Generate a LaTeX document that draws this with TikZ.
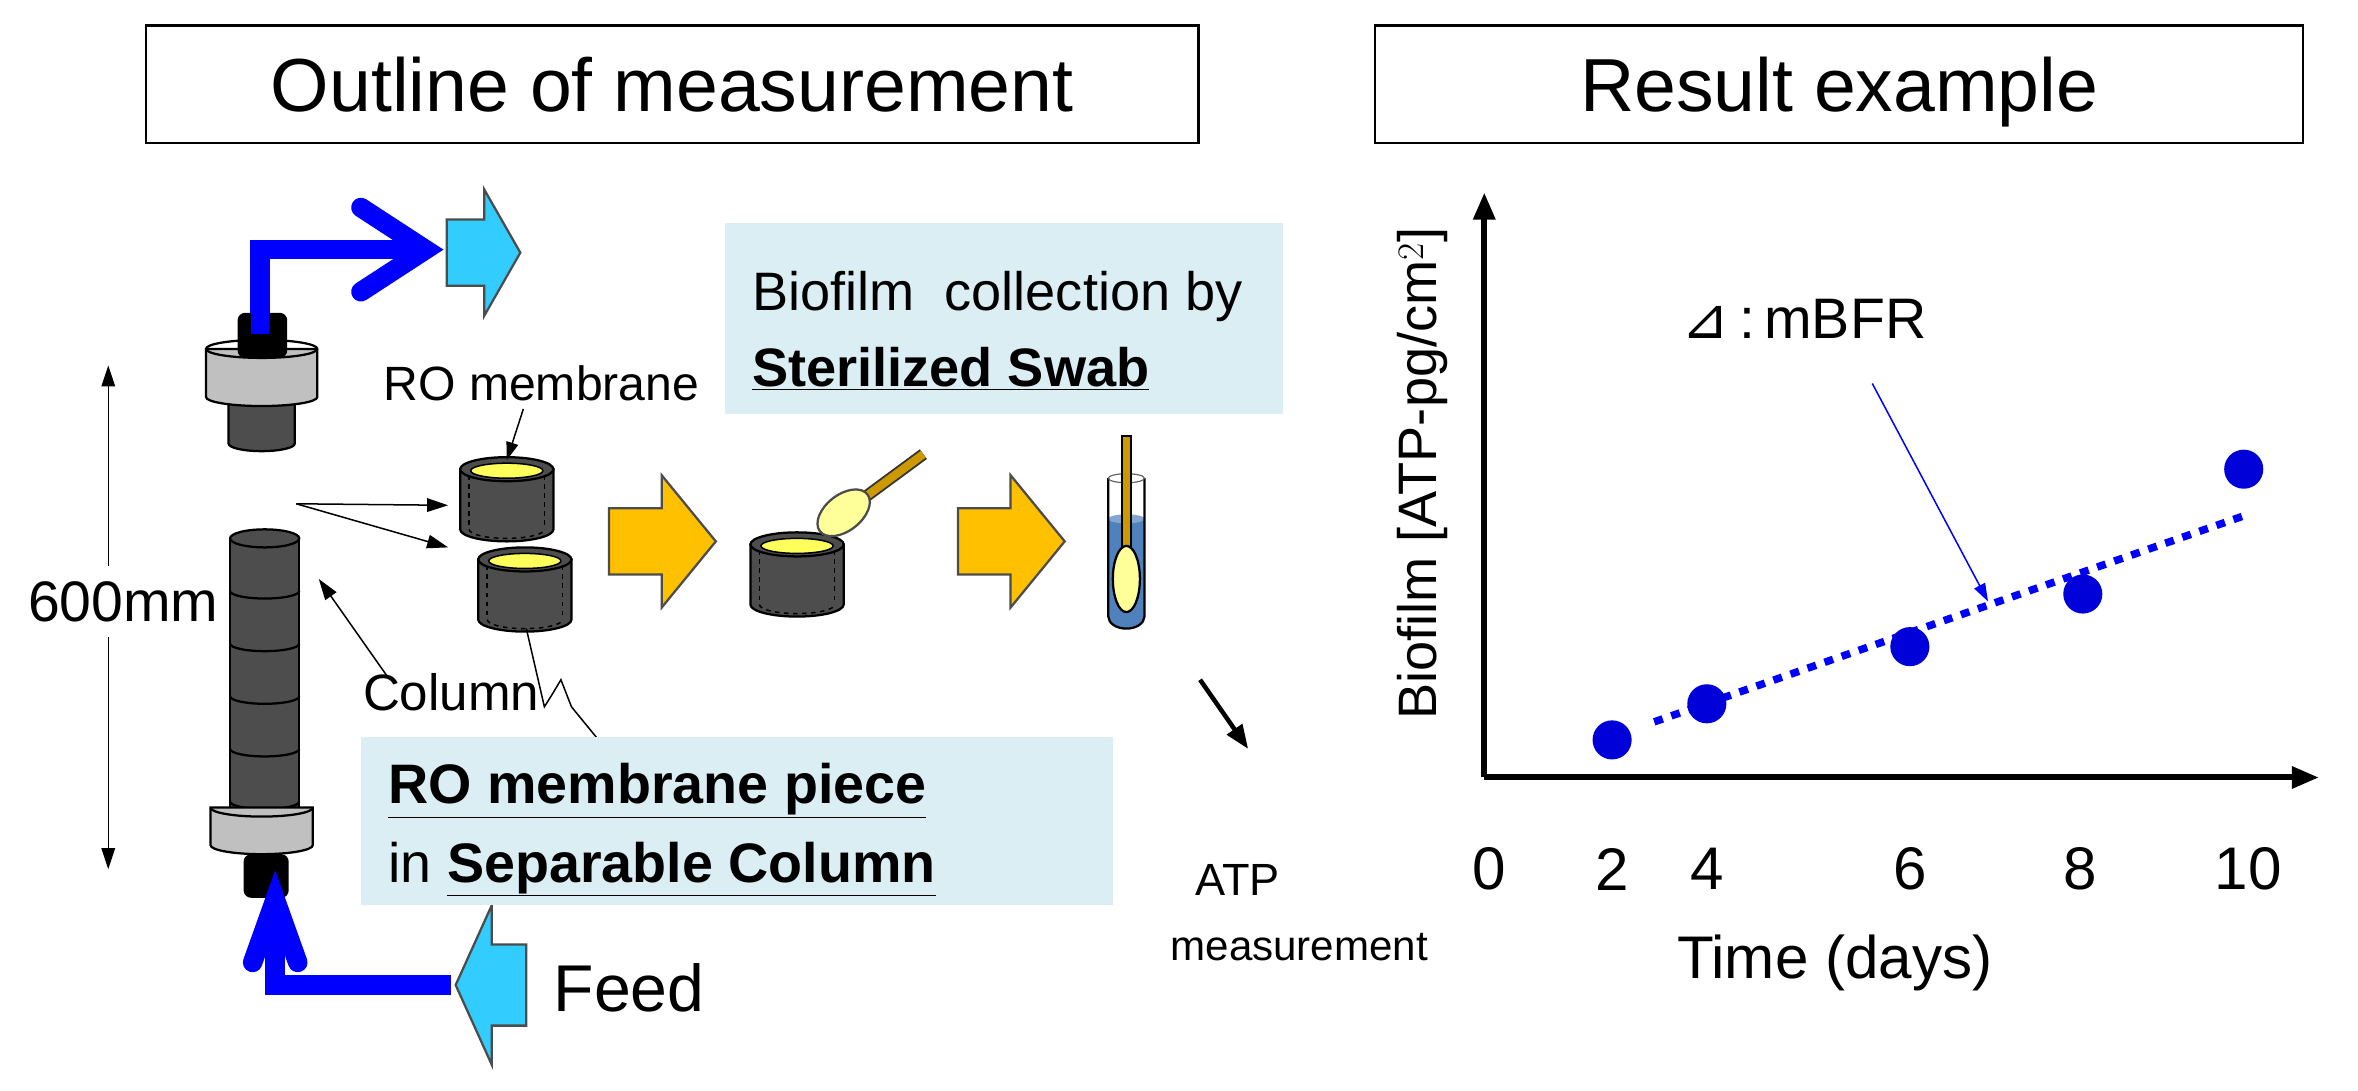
\documentclass[tikz,border=0pt]{standalone}
\usepackage{fontspec}
\setmainfont{Liberation Sans}
\newfontfamily\dv{DejaVu Sans}
\usetikzlibrary{arrows.meta}
\definecolor{dk}{RGB}{77,77,77}
\definecolor{gr}{RGB}{192,192,192}
\definecolor{cy}{RGB}{51,204,255}
\definecolor{yl}{RGB}{255,192,0}
\definecolor{pale}{RGB}{218,238,243}
\definecolor{lemon}{RGB}{255,255,153}
\definecolor{stick}{RGB}{204,153,0}
\definecolor{liq}{RGB}{79,129,189}
\newcommand\fs[1]{\fontsize{#1}{#1}\selectfont}
\tikzset{
 x=1pt,y=-1pt,
 title/.style={draw,line width=1.5,inner sep=0,minimum height=78,text depth=0},
 pipe/.style={blue,line width=13},
 bigarr/.style={draw=black!70,line width=1.5},
 lbl/.style={inner sep=0,anchor=center},
 pt/.style={circle,fill=blue!85!black,minimum size=26,inner sep=0},
 pics/cont/.style={code={
   \fill[dk,draw=black,line width=1.5] (-31,0) -- (-31,40) arc[start angle=180,end angle=0,x radius=31,y radius=8] -- (31,0) -- cycle;
   \draw[dashed,line width=1] (-25,4) -- (-25,40) (25,4) -- (25,40);
   \draw[dashed,line width=1] (-25,40) arc[start angle=180,end angle=0,x radius=25,y radius=6];
   \fill[dk,draw=black,line width=1.5] (0,0) ellipse[x radius=31,y radius=8];
   \fill[lemon!60!yellow,draw=black,line width=1] (0,1) ellipse[x radius=24,y radius=5];
 }}
}
\begin{document}
\begin{tikzpicture}
\useasboundingbox (0,0) rectangle (1568,725);
% titles
\node[title,minimum width=700] (t1) at (447,56) {\fs{50}Outline of measurement};
\node[title,minimum width=617] (t2) at (1223,56) {\fs{50}Result example};
% 600mm
\node[lbl] (mm) at (82,400) {\fs{38}600mm};
\draw[-{Triangle[length=14,width=9]},line width=1] (mm.north -| 72,0) ++(0,-10) -- (72,243);
\draw[-{Triangle[length=14,width=9]},line width=1] (mm.south -| 72,0) ++(0,10) -- (72,578);
% top blue pipe and cyan arrow
\draw[pipe] (173,215) -- (173,166) -- (282,166);
\draw[pipe,line cap=round,line join=miter] (240,138) -- (283,166) -- (240,194);
\draw[bigarr,fill=cy] (297,146) -- (322,146) -- (322,126) -- (346,168) -- (322,210) -- (322,190) -- (297,190) -- cycle;
% top connector
\fill[dk,draw=black,line width=1.5] (152,260) -- (152,295) arc[start angle=180,end angle=0,x radius=22,y radius=5] -- (196,260) -- cycle;
\fill[gr,draw=black,line width=1.5] (137,232) -- (137,264) arc[start angle=180,end angle=0,x radius=37,y radius=6] -- (211,232) -- cycle;
\draw[line width=1.5] (137,232) arc[start angle=180,end angle=0,x radius=37,y radius=6];
\draw[line width=1.5] (137,232) arc[start angle=180,end angle=360,x radius=37,y radius=6];
\fill[black,rounded corners=5] (158,208) rectangle (191,238);
\fill[blue] (167,206) rectangle (179,222);
% column
\fill[dk,draw=black,line width=1.5] (153,358) -- (153,545) -- (199,545) -- (199,358) -- cycle;
\draw[line width=1.5,fill=dk] (176,358) ellipse[x radius=23,y radius=6];
\foreach \yy in {393,428,463,498,533}
  \draw[line width=1.5] (153,\yy) arc[start angle=180,end angle=0,x radius=23,y radius=5];
\fill[gr,draw=black,line width=1.5] (140,537) -- (140,562) arc[start angle=180,end angle=0,x radius=34,y radius=6] -- (208,537) -- cycle;
\draw[line width=1.5] (140,537) arc[start angle=180,end angle=0,x radius=34,y radius=6];
\fill[black,rounded corners=5] (162,568) rectangle (192,597);
% bottom blue pipe and feed arrow
\draw[pipe] (300,655) -- (183,655) -- (183,610);
\draw[pipe,line cap=round] (168,640) -- (183,598) -- (198,640);
\draw[bigarr,fill=cy] (350,628) -- (327,628) -- (327,602) -- (303,655) -- (327,708) -- (327,682) -- (350,682) -- cycle;
\node[lbl,anchor=west] (feed) at (368,657) {\fs{44}Feed};
% containers
\pic at (337,312) {cont};
\pic at (349,372) {cont};
\pic at (530,362) {cont};
\coordinate (c1) at (337,306);
\coordinate (c2b) at (350,418);
\node[lbl] (rom) at (360,255) {\fs{32}RO membrane};
\draw[-{Triangle[length=12,width=8]},line width=1] (rom.south) ++(-12,5) -- (c1);
\coordinate (src) at (197,335);
\draw[-{Triangle[length=14,width=9]},line width=1] (src) -- (298,336);
\draw[-{Triangle[length=14,width=9]},line width=1] (src) -- (298,364);
\node[lbl] (col) at (300,460) {\fs{34}Column};
\draw[-{Triangle[length=14,width=9]},line width=1] (col.north west) ++(16,2) -- (212,385);
\draw[line width=1] (c2b) -- (362,470) -- (367,462) -- (373,452) -- (380,470) -- (398,492);
% boxes
\fill[pale] (482,148) rectangle (853,275);
\node[lbl,anchor=west] (bio1) at (500,197) {\fs{36}Biofilm\ \ collection by};
\node[lbl,anchor=west] (bio2) at (500,245) {\fs{36}\bfseries\underline{Sterilized Swab}};
\fill[pale] (240,490) rectangle (740,602);
\node[lbl,anchor=west] (ro1) at (258,526) {\fs{37}\bfseries\underline{RO membrane piece}};
\node[lbl,anchor=west] (ro2) at (258,578) {\fs{37}in \bfseries\underline{Separable Column}};
% yellow arrows
\draw[bigarr,fill=yl] (405,338) -- (440,338) -- (440,316) -- (476,360) -- (440,404) -- (440,382) -- (405,382) -- cycle;
\draw[bigarr,fill=yl] (637,338) -- (672,338) -- (672,316) -- (708,360) -- (672,404) -- (672,382) -- (637,382) -- cycle;
% swab
\coordinate (sw1) at (576,330);
\coordinate (sw2) at (614,302);
\draw[line width=8,black!80] (sw1) -- (sw2);
\draw[line width=5.5,stick] (sw1) -- (sw2);
\draw[line width=1.5,draw=black!70,fill=lemon,rotate around={38:(561,341)}] (561,341) ellipse[x radius=20,y radius=12];
% tube
\fill[liq] (737,345) -- (737,410) arc[start angle=180,end angle=0,x radius=12,y radius=8] -- (761,345) -- cycle;
\fill[liq!70] (749,345) ellipse[x radius=12,y radius=3];
\draw[line width=1.5] (737,318) -- (737,410) arc[start angle=180,end angle=0,x radius=12,y radius=8] -- (761,318);
\draw[line width=0.8,black!60] (749,318) ellipse[x radius=12,y radius=3];
\draw[line width=1,fill=stick] (746,290) rectangle (752,365);
\draw[line width=1.5,fill=lemon] (749,385) ellipse[x radius=9,y radius=22];
% ATP
\node[lbl] (atp1) at (823,585) {\fs{30}ATP};
\node[lbl] (atp2) at (864,630) {\fs{28}measurement};
\draw[-{Triangle[length=16,width=12]},line width=3] (798,452) -- (830,498);
% chart
\coordinate (o) at (987,517);
\draw[-{Triangle[length=18,width=14]},line width=4] (o) -- (987,128);
\draw[-{Triangle[length=18,width=14]},line width=4] (o) -- (1542,517);
\foreach \v/\xx in {0/990,2/1072,4/1135,6/1270,8/1383,10/1495}
  \node[lbl] (tk\v) at (\xx,578) {\fs{40}\v};
\node[lbl] (xl) at (1220,640) {\fs{40}Time (days)};
\node[lbl,rotate=90] (yl) at (946,315) {\fs{36}Biofilm [ATP-pg/cm$^{2}$]};
\draw[blue,line width=5,dash pattern=on 6 off 6] (1100,480) -- (1495,342);
\node[pt] (p2) at (1072,492) {};
\node[pt] (p4) at (1135,468) {};
\node[pt] (p6) at (1270,430) {};
\node[pt] (p8) at (1385,395) {};
\node[pt] (p10) at (1492,312) {};
\node[lbl,anchor=west] (mb) at (1118,212) {\fs{38}{\dv ⊿}\,:\,mBFR};
\draw[blue,line width=1,-{Triangle[length=12,width=8]}] (1245,255) -- (1322,400);
\end{tikzpicture}
\end{document}
